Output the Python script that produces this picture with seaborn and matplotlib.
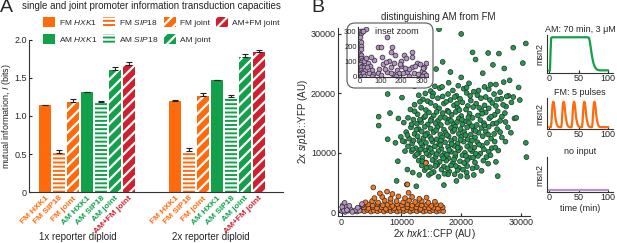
import numpy as np
import pandas as pd
import matplotlib
matplotlib.use("Agg")
import matplotlib.pyplot as plt
import matplotlib.transforms as mtransforms
from matplotlib.patches import Patch, FancyBboxPatch
import seaborn as sns

W, H = 617, 243

# ====== DATA: panel A (mutual information) ======
bar_labels = ["FM HXK1", "FM SIP18", "FM joint", "AM HXK1", "AM SIP18", "AM joint", "AM+FM joint"]
groups = ["1x reporter diploid", "2x reporter diploid"]
mi_1x = [1.14, 0.51, 1.19, 1.31, 1.19, 1.61, 1.67]
err_1x = [0.01, 0.04, 0.04, 0.01, 0.01, 0.04, 0.04]
mi_2x = [1.20, 0.54, 1.26, 1.47, 1.25, 1.77, 1.84]
err_2x = [0.01, 0.04, 0.04, 0.01, 0.03, 0.05, 0.03]

# ====== DATA: panel B scatter (thousands of AU) ======
green_pts = [
    (16.3, 30.8), (20.0, 30.0), (30.8, 28.4), (28.7, 27.7), (24.5, 26.8), (26.3, 26.7), (30.3, 25.1),
    (16.9, 25.3), (22.4, 25.7), (15.8, 24.1), (23.6, 23.4), (27.2, 24.2), (14.2, 22.8), (20.0, 22.7),
    (28.1, 22.2), (10.1, 19.3), (7.7, 19.9), (28.7, 19.4), (29.8, 18.9), (27.5, 17.8), (6.2, 16.1),
    (8.1, 16.7), (9.5, 15.8), (6.2, 14.6), (28.9, 15.8), (28.3, 13.4), (7.7, 12.3), (9.0, 11.7),
    (30.8, 11.7), (10.6, 10.3), (30.9, 9.3), (9.4, 8.6), (11.0, 7.2), (11.9, 6.7), (26.1, 6.1),
    (19.2, 5.3), (17.1, 4.6), (12.5, 4.4), (10.9, 4.7), (9.2, 5.3), (25.3, 24.8), (21.9, 26.9),
    (18.2, 23.6), (12.2, 21.2), (29.6, 21.0),
    (13.8, 21.6), (15.6, 21.2), (17.9, 21.8), (19.5, 21.3), (21.3, 21.7), (23.9, 21.1), (25.8, 21.5), (27.1, 21.9),
    (14.9, 20.4), (16.4, 20.9), (18.6, 20.5), (20.4, 20.8), (22.1, 20.3), (24.6, 20.7), (26.5, 20.2),
    (12.9, 19.7), (15.3, 20.0), (16.9, 19.5), (17.8, 19.9), (19.2, 19.6), (20.9, 20.1), (22.7, 19.7),
    (24.1, 19.4), (25.5, 19.9), (27.9, 19.6),
    (13.6, 19.0), (14.4, 18.7), (16.1, 19.2), (18.2, 18.9), (19.8, 19.1), (21.6, 18.8), (23.3, 19.2),
    (24.8, 18.9), (26.7, 19.1),
    (12.2, 18.1), (14.9, 18.4), (15.7, 17.9), (17.1, 18.3), (18.8, 18.0), (20.2, 18.5), (21.1, 17.9),
    (22.5, 18.3), (23.9, 18.0), (25.2, 18.4), (27.0, 18.1), (28.4, 18.5),
    (11.5, 17.3), (13.3, 17.6), (14.1, 17.2), (16.3, 17.5), (17.7, 17.1), (19.4, 17.6), (20.8, 17.3),
    (22.0, 17.7), (23.4, 17.2), (24.6, 17.5), (26.1, 17.0),
    (12.7, 16.5), (14.6, 16.8), (15.4, 16.3), (16.9, 16.7), (18.4, 16.4), (19.1, 16.9), (20.0, 16.2),
    (21.4, 16.6), (22.8, 16.3), (24.1, 16.8), (25.6, 16.4), (27.3, 16.7),
    (11.1, 15.9), (12.0, 15.6), (13.8, 16.0), (15.0, 15.7), (16.1, 15.4), (17.3, 15.9), (18.0, 15.6),
    (19.6, 15.8), (20.6, 15.3), (21.9, 15.9), (23.2, 15.5), (24.7, 15.8), (26.5, 15.4), (29.2, 15.9),
    (10.4, 15.1), (12.6, 14.9), (13.3, 15.2), (14.4, 14.8), (15.7, 15.0), (16.6, 14.7), (17.7, 15.1),
    (18.7, 14.9), (19.3, 15.2), (20.2, 14.8), (21.3, 15.1), (22.6, 14.7), (23.8, 15.0), (25.3, 14.9),
    (11.6, 14.3), (12.9, 14.0), (13.9, 14.4), (14.9, 14.1), (16.0, 14.3), (17.1, 13.9), (18.3, 14.2),
    (19.0, 14.4), (19.9, 14.0), (21.0, 14.3), (22.1, 13.9), (23.4, 14.2), (24.6, 14.4), (26.0, 14.0), (27.8, 14.3),
    (10.8, 13.5), (12.2, 13.2), (13.4, 13.6), (14.3, 13.3), (15.4, 13.5), (16.5, 13.1), (17.4, 13.4),
    (18.6, 13.6), (19.6, 13.2), (20.5, 13.5), (21.6, 13.1), (22.9, 13.4), (24.1, 13.6), (25.5, 13.2),
    (9.9, 12.7), (11.3, 12.4), (12.7, 12.8), (13.7, 12.5), (14.8, 12.7), (15.9, 12.3), (16.8, 12.6),
    (17.9, 12.8), (18.9, 12.4), (20.0, 12.7), (21.1, 12.3), (22.3, 12.6), (23.6, 12.8), (25.0, 12.4), (26.8, 12.6),
    (10.5, 11.9), (11.8, 11.6), (13.0, 12.0), (14.1, 11.7), (15.2, 11.9), (16.3, 11.5), (17.3, 11.8),
    (18.3, 12.0), (19.4, 11.6), (20.4, 11.9), (21.5, 11.5), (22.7, 11.8), (24.3, 11.7), (27.4, 11.9),
    (11.1, 11.1), (12.4, 10.8), (13.5, 11.2), (14.6, 10.9), (15.6, 11.1), (16.7, 10.7), (17.8, 11.0),
    (18.8, 11.2), (19.8, 10.8), (21.0, 11.1), (22.2, 10.9), (23.5, 11.2), (25.1, 10.8),
    (11.7, 10.3), (12.9, 10.0), (14.0, 10.4), (15.1, 10.1), (16.2, 10.3), (17.2, 9.9), (18.3, 10.2),
    (19.5, 10.4), (20.6, 10.0), (21.8, 10.3), (23.2, 9.9), (24.6, 10.2), (26.2, 10.4),
    (12.3, 9.5), (13.5, 9.2), (14.6, 9.6), (15.7, 9.3), (16.8, 9.5), (17.9, 9.1), (19.0, 9.4),
    (20.2, 9.6), (21.4, 9.2), (22.8, 9.5), (24.2, 9.3),
    (12.9, 8.7), (14.1, 8.4), (15.2, 8.8), (16.4, 8.5), (17.5, 8.7), (18.6, 8.3), (19.8, 8.6),
    (21.0, 8.8), (22.3, 8.4), (23.7, 8.7), (25.8, 8.5),
    (13.4, 7.9), (14.8, 7.6), (16.0, 8.0), (17.1, 7.7), (18.3, 7.9), (19.6, 7.5), (21.0, 7.8), (22.6, 7.6),
    (13.9, 7.1), (15.4, 6.8), (16.7, 7.2), (18.0, 6.9), (19.4, 7.1), (20.9, 6.7), (23.4, 7.0),
    (14.6, 6.3), (16.2, 6.0), (17.8, 6.4), (19.9, 6.1), (22.1, 6.3),
    # second layer in the dense core
    (14.0, 20.0), (16.8, 21.1), (18.9, 19.4), (20.9, 21.0), (22.9, 20.5), (24.9, 21.5), (26.0, 19.0),
    (13.1, 18.6), (15.2, 19.5), (17.5, 18.6), (19.3, 18.3), (21.5, 19.6), (23.0, 17.6), (25.8, 17.9),
    (27.6, 19.5), (12.2, 17.0), (14.0, 16.2), (15.9, 16.9), (17.9, 16.9), (19.7, 17.2), (21.2, 16.0),
    (23.5, 16.6), (25.0, 16.1), (26.8, 16.1), (11.7, 14.8), (13.1, 15.6), (14.9, 15.4), (16.5, 15.9),
    (18.3, 15.4), (20.1, 15.6), (21.8, 14.5), (23.9, 14.6), (25.9, 15.0), (27.4, 15.2), (11.0, 13.0),
    (12.5, 13.9), (14.0, 13.0), (15.8, 13.8), (17.6, 13.0), (18.9, 13.9), (20.7, 13.0), (22.4, 13.7),
    (24.5, 13.1), (26.5, 13.5), (10.2, 12.0), (12.0, 12.1), (13.3, 11.6), (15.0, 12.3), (16.6, 12.1),
    (18.4, 11.5), (19.9, 12.2), (21.8, 12.1), (23.0, 11.4), (25.6, 11.9), (11.9, 10.6), (13.2, 10.6),
    (14.9, 10.7), (16.5, 11.3), (18.0, 10.5), (19.4, 10.9), (21.5, 10.6), (23.8, 10.6), (25.7, 10.9),
    (12.6, 9.8), (14.2, 9.9), (15.9, 9.8), (17.6, 9.7), (19.0, 9.9), (20.8, 9.5), (22.4, 9.9),
    (24.9, 9.6), (13.5, 8.6), (15.8, 8.3), (17.0, 9.1), (18.8, 8.9), (20.5, 8.3), (22.0, 9.2),
    (24.5, 8.2), (14.2, 7.5), (15.7, 7.8), (17.7, 7.4), (19.1, 7.8), (20.3, 7.2), (21.9, 7.4),
    (15.0, 6.6), (17.2, 6.5), (18.9, 6.4), (21.0, 6.0), (13.0, 6.3),
]
orange_pts = [
    (2.6, 0.15), (3.2, 0.35), (3.8, 0.2), (4.3, 0.4), (4.9, 0.15), (5.4, 0.3), (6.0, 0.2), (6.5, 0.4),
    (7.1, 0.15), (7.6, 0.35), (8.2, 0.2), (8.7, 0.4), (9.3, 0.15), (9.8, 0.3), (10.4, 0.2), (10.9, 0.4),
    (11.5, 0.15), (12.0, 0.35), (12.6, 0.2), (13.1, 0.4), (13.7, 0.15), (14.2, 0.3), (14.8, 0.2),
    (15.3, 0.4), (15.9, 0.15), (16.4, 0.3), (17.0, 0.2),
    (3.0, 0.7), (3.7, 0.85), (4.5, 0.65), (5.2, 0.9), (5.9, 0.7), (6.7, 0.85), (7.4, 0.6), (8.1, 0.9),
    (8.8, 0.7), (9.6, 0.8), (10.3, 0.65), (11.0, 0.9), (11.7, 0.7), (12.5, 0.85), (13.2, 0.6),
    (13.9, 0.9), (14.6, 0.7), (15.4, 0.8), (16.1, 0.65), (16.9, 0.85),
    (3.5, 1.2), (4.4, 1.35), (5.2, 1.15), (6.0, 1.4), (6.9, 1.2), (7.7, 1.3), (8.5, 1.1), (9.3, 1.4),
    (10.1, 1.2), (11.0, 1.35), (11.8, 1.15), (12.6, 1.4), (13.4, 1.2), (14.2, 1.3), (15.0, 1.1),
    (15.8, 1.35), (16.6, 1.2),
    (4.0, 1.7), (5.1, 1.9), (6.1, 1.65), (7.2, 2.0), (8.2, 1.75), (9.2, 1.9), (10.3, 1.7), (11.3, 2.0),
    (12.3, 1.75), (13.4, 1.9), (14.5, 1.65), (15.6, 1.8),
    (5.5, 2.4), (6.8, 2.6), (8.2, 2.3), (9.5, 2.7), (10.6, 2.4), (11.8, 2.6), (13.0, 2.3), (14.2, 2.5),
    (6.4, 3.2), (7.6, 3.5), (8.5, 3.1), (11.2, 3.3),
    (5.3, 4.2), (11.0, 4.7), (14.1, 8.3),
]
purple_pts = [
    (0.1, 0.2), (0.3, 0.6), (0.2, 1.2), (0.5, 1.6), (0.8, 0.9), (1.1, 0.3), (1.5, 0.5), (2.0, 0.2),
    (2.4, 0.4), (3.0, 0.3), (3.4, 1.4), (0.6, 0.1), (1.3, 1.1), (0.1, 0.9), (2.7, 0.8), (1.8, 0.1),
    (0.4, 0.3), (0.9, 0.4),
]
# inset (raw AU)
inset_pts = [
    (2, 300), (3, 290), (8, 305), (27, 316), (15, 300), (2, 260), (4, 230), (3, 200), (5, 180), (2, 150),
    (6, 140), (3, 120), (8, 110), (4, 95), (2, 80), (10, 70), (5, 60), (3, 45), (7, 30), (2, 15),
    (12, 10), (4, 5), (18, 100), (20, 60), (25, 40), (15, 20), (40, 90), (50, 70), (60, 40), (70, 110),
    (85, 199), (101, 199), (129, 266), (153, 199), (150, 165), (253, 160), (253, 131), (201, 102),
    (322, 86), (310, 63), (170, 140), (215, 140), (225, 120), (275, 90), (290, 80), (300, 35),
    (250, 60), (260, 20), (200, 70), (180, 40), (150, 60), (130, 30), (110, 80), (90, 50), (85, 20),
    (100, 10), (160, 15), (190, 25), (230, 30), (280, 15), (310, 20), (320, 10), (240, 50), (210, 20),
    (120, 50), (65, 15), (45, 25), (30, 120), (35, 60), (55, 130), (140, 100), (105, 130), (125, 95),
    (165, 90), (195, 80), (220, 55), (265, 70), (305, 55), (150, 20), (175, 5), (240, 5), (300, 5),
    (60, 5), (20, 5),
]

# ====== DATA: msn2 input traces ======
am_t = [0, 1.5, 2.5, 3.5, 5, 66, 67.5, 69, 71, 73, 75, 77, 79, 82, 86, 100]
am_v = [0.06, 0.07, 0.55, 0.92, 0.94, 0.94, 0.92, 0.82, 0.6, 0.4, 0.26, 0.17, 0.12, 0.08, 0.07, 0.07]
pulse_onsets = [3, 20.5, 38, 55.5, 72.5]
pulse_dt = [0, 1, 2, 3, 4, 5, 6, 7, 8, 10, 12, 14]
pulse_v = [0.06, 0.2, 0.55, 0.8, 0.88, 0.85, 0.7, 0.5, 0.33, 0.15, 0.08, 0.06]
none_t = [0, 100]
none_v = [0.05, 0.05]

# ====== STYLE ======
sns.set_style("ticks")
plt.rcParams["font.family"] = ["Liberation Sans", "DejaVu Sans"]
plt.rcParams["mathtext.fontset"] = "custom"
plt.rcParams["mathtext.rm"] = "Liberation Sans"
plt.rcParams["mathtext.it"] = "Liberation Sans:italic"
plt.rcParams["hatch.linewidth"] = 1.6
plt.rcParams["xtick.direction"] = "in"
plt.rcParams["ytick.direction"] = "in"
plt.rcParams["axes.linewidth"] = 0.8
plt.rcParams["axes.edgecolor"] = "#333333"

ORANGE, GREEN, RED, PURPLE = "#ff6a0d", "#12a04a", "#d01f2e", "#b692c9"
bar_colors = {"FM HXK1": ORANGE, "FM SIP18": ORANGE, "FM joint": ORANGE,
              "AM HXK1": GREEN, "AM SIP18": GREEN, "AM joint": GREEN, "AM+FM joint": RED}
hatches = {"FM HXK1": "", "FM SIP18": "----", "FM joint": "///",
           "AM HXK1": "", "AM SIP18": "----", "AM joint": "///", "AM+FM joint": "///"}


def px_rect(left, top, right, bottom):
    return [left / W, 1 - bottom / H, (right - left) / W, (bottom - top) / H]


fig = plt.figure(figsize=(W / 100, H / 100), dpi=100)

# ====== A: bars ======
axA = fig.add_axes(px_rect(29, 40, 283, 192))
df_bars = pd.DataFrame({"group": np.repeat(groups, len(bar_labels)),
                        "label": bar_labels * 2,
                        "mi": mi_1x + mi_2x})
sns.barplot(data=df_bars, x="group", y="mi", hue="label", hue_order=bar_labels,
            palette=bar_colors, width=0.75, gap=0.15, saturation=1,
            errorbar=None, legend=False, ax=axA)

centers, tops, errs = [], [], []
for lab, cont in zip(bar_labels, axA.containers):
    for bar in cont:
        bar.set_hatch(hatches[lab])
        bar.set_edgecolor("white")
        bar.set_linewidth(0)
all_err = [err_1x, err_2x]
for g in range(2):
    for k in range(len(bar_labels)):
        bar = axA.containers[k][g]
        centers.append(bar.get_x() + bar.get_width() / 2)
        tops.append(bar.get_height())
        errs.append(all_err[g][k])
axA.errorbar(centers, tops, yerr=[np.zeros(len(errs)), errs], fmt="none",
             ecolor="#222222", elinewidth=0.8, capsize=2.3, capthick=0.8)

axA.set_xticks(centers)
axA.set_xticklabels(bar_labels * 2, rotation=45, ha="right", rotation_mode="anchor",
                    fontsize=6, fontweight="bold")
for t, lab in zip(axA.get_xticklabels(), bar_labels * 2):
    t.set_color(bar_colors[lab])
axA.tick_params(axis="x", length=0, pad=2)
axA.tick_params(axis="y", labelsize=6.5, length=2.5, pad=1.5)
axA.set_xlim(-0.446, 1.508)
axA.set_ylim(0, 2.0)
axA.set_yticks([0, 0.5, 1.0, 1.5, 2.0])
axA.set_yticklabels(["0", "0.5", "1.0", "1.5", "2.0"])
axA.set_xlabel("")
axA.set_ylabel(r"mutual information, $\mathit{I}$ (bits)", fontsize=6.5)
axA.yaxis.set_label_coords((13 - 29) / 254, 0.5)
sns.despine(ax=axA)

fig.text(78 / W, 1 - 237 / H, groups[0], fontsize=7, ha="center", va="center")
fig.text(211 / W, 1 - 237 / H, groups[1], fontsize=7, ha="center", va="center")
fig.text(151 / W, 1 - 6 / H, "single and joint promoter information transduction capacities",
         fontsize=7, ha="center", va="center")
fig.text(0 / W, 1 - 8 / H, "A", fontsize=14, ha="left", va="center")
fig.text(311 / W, 1 - 8 / H, "B", fontsize=14, ha="left", va="center")

leg_names = {"FM HXK1": r"FM $\mathit{HXK1}$", "FM SIP18": r"FM $\mathit{SIP18}$",
             "FM joint": "FM joint", "AM HXK1": r"AM $\mathit{HXK1}$",
             "AM SIP18": r"AM $\mathit{SIP18}$", "AM joint": "AM joint",
             "AM+FM joint": "AM+FM joint"}
leg_order = ["FM HXK1", "AM HXK1", "FM SIP18", "AM SIP18", "FM joint", "AM joint", "AM+FM joint"]
handles = [Patch(facecolor=bar_colors[k], edgecolor="white", linewidth=0, hatch=hatches[k])
           for k in leg_order]
fig.legend(handles, [leg_names[k] for k in leg_order], ncol=4, loc="upper left",
           bbox_to_anchor=(43 / W, 1 - 17 / H), frameon=False, fontsize=6,
           handlelength=1.45, handleheight=1.45, handletextpad=0.45,
           columnspacing=0.7, labelspacing=0.85, borderpad=0, borderaxespad=0)

# ====== B: scatter ======
axB = fig.add_axes(px_rect(338, 28, 530, 216))
df_sc = pd.concat([
    pd.DataFrame(green_pts, columns=["x", "y"]).assign(cond="AM"),
    pd.DataFrame(orange_pts, columns=["x", "y"]).assign(cond="FM"),
    pd.DataFrame(purple_pts, columns=["x", "y"]).assign(cond="none"),
], ignore_index=True)
df_sc[["x", "y"]] = df_sc[["x", "y"]] * 1000
sns.scatterplot(data=df_sc, x="x", y="y", hue="cond",
                palette={"AM": "#1f9a4e", "FM": "#f5781e", "none": PURPLE},
                s=12, edgecolor="#2a2a2a", linewidth=0.5, legend=False, ax=axB)
axB.set_xlim(-600, 31500)
axB.set_ylim(-600, 31000)
axB.set_xticks([0, 10000, 20000, 30000])
axB.set_yticks([0, 10000, 20000, 30000])
axB.tick_params(labelsize=6.5, length=2.5, pad=1.5)
axB.set_xlabel(r"2x $\mathit{hxk1}$::CFP (AU)", fontsize=7, labelpad=0)
axB.set_ylabel(r"2x $\mathit{sip18}$::YFP (AU)", fontsize=7, labelpad=1)
sns.despine(ax=axB)
fig.text(438 / W, 1 - 17 / H, "distinguishing AM from FM", fontsize=7, ha="center", va="center")

box = FancyBboxPatch((347, H - 88), 86, 65, boxstyle="round,pad=0,rounding_size=8",
                     transform=mtransforms.IdentityTransform(), facecolor="white",
                     edgecolor="#555555", linewidth=0.8, zorder=2)
fig.add_artist(box)

axI = fig.add_axes(px_rect(358, 27, 428, 77))
axI.set_zorder(3)
axI.patch.set_alpha(0)
df_in = pd.DataFrame(inset_pts, columns=["x", "y"])
sns.scatterplot(data=df_in, x="x", y="y", color=PURPLE, s=12, edgecolor="#2a2a2a",
                linewidth=0.5, legend=False, ax=axI)
axI.set_xlim(-10, 330)
axI.set_ylim(-5, 330)
axI.set_xticks([0, 100, 200, 300])
axI.set_yticks([0, 100, 200, 300])
axI.tick_params(labelsize=5.5, length=2, pad=1)
axI.set_xlabel("")
axI.set_ylabel("")
sns.despine(ax=axI)
axI.text(0.56, 0.92, "inset zoom", transform=axI.transAxes, fontsize=6.5,
         ha="center", va="center")

# ====== msn2 traces ======
fm_t, fm_v = [0], [0.06]
for t0 in pulse_onsets:
    fm_t += [t0 + d for d in pulse_dt]
    fm_v += pulse_v
fm_t.append(100)
fm_v.append(0.06)

panels = [
    (px_rect(547, 35, 613, 73), am_t, am_v, GREEN, "AM: 70 min, 3 μM"),
    (px_rect(547, 98, 613, 129), fm_t, fm_v, ORANGE, "FM: 5 pulses"),
    (px_rect(547, 157, 613, 192), none_t, none_v, PURPLE, "no input"),
]
for rect, t, v, c, title in panels:
    ax = fig.add_axes(rect)
    sns.lineplot(x=t, y=v, color=c, lw=1.6, ax=ax)
    ax.set_xlim(-3.5, 108)
    ax.set_ylim(0, 1)
    ax.set_yticks([])
    ax.set_xticks([0, 50, 100])
    ax.tick_params(labelsize=6.5, length=2, pad=1)
    ax.set_ylabel("msn2", fontsize=6.5, labelpad=2)
    ax.set_title(title, fontsize=6.5, pad=2)
    sns.despine(ax=ax)
ax.set_xlabel("time (min)", fontsize=6.5, labelpad=1)

fig.savefig("out.png", dpi=100)
